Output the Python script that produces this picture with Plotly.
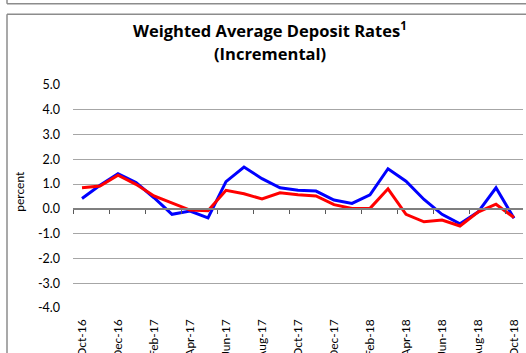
import plotly.graph_objects as go

months = ["Oct-16", "Nov-16", "Dec-16", "Jan-17", "Feb-17", "Mar-17", "Apr-17",
          "May-17", "Jun-17", "Jul-17", "Aug-17", "Sep-17", "Oct-17", "Nov-17",
          "Dec-17", "Jan-18", "Feb-18", "Mar-18", "Apr-18", "May-18", "Jun-18",
          "Jul-18", "Aug-18", "Sep-18", "Oct-18"]
blue_series = [0.42, 0.95, 1.42, 1.06, 0.45, -0.22, -0.09, -0.36, 1.10, 1.69,
               1.22, 0.85, 0.75, 0.72, 0.36, 0.22, 0.57, 1.62, 1.12, 0.38,
               -0.22, -0.60, -0.13, 0.85, -0.38]
red_series = [0.85, 0.92, 1.36, 0.99, 0.52, 0.22, -0.05, -0.07, 0.75, 0.61,
              0.40, 0.65, 0.57, 0.52, 0.17, 0.02, 0.02, 0.81, -0.22, -0.52,
              -0.45, -0.69, -0.13, 0.19, -0.35]
y_ticks = [5.0, 4.0, 3.0, 2.0, 1.0, 0.0, -1.0, -2.0, -3.0, -4.0]

W, H = 526, 353
L, R, T, B = 73, 3, 85, 44.5
PW, PH = W - L - R, H - T - B
Y_MIN, Y_MAX = -4.0, 5.0


def px(x):
    return (x - L) / PW


def py(y):
    return (H - B - y) / PH


idx = list(range(len(months)))
FONT = "Lato, 'Open Sans', sans-serif"
TITLE_FONT = "'Open Sans', Lato, sans-serif"

fig = go.Figure()
fig.add_trace(go.Scatter(x=idx, y=blue_series, mode="lines",
                         line=dict(color="#0000FF", width=3), showlegend=False))
fig.add_trace(go.Scatter(x=idx, y=red_series, mode="lines",
                         line=dict(color="#FF0000", width=3), showlegend=False))

label_idx = idx[::2]
fig.update_layout(
    width=W, height=H,
    margin=dict(l=L, r=R, t=T, b=B, autoexpand=False),
    paper_bgcolor="white", plot_bgcolor="white",
    font=dict(family=FONT, color="#000000"),
    xaxis=dict(
        range=[-0.5, len(months) - 0.5],
        tickmode="array", tickvals=label_idx,
        ticktext=[months[i] for i in label_idx],
        tickangle=-90, ticks="", showgrid=False, zeroline=False,
        showline=False, tickfont=dict(size=12, family=FONT),
        ticklabelstandoff=8, automargin=False,
    ),
    xaxis2=dict(
        overlaying="x", anchor="free",
        position=(0 - Y_MIN) / (Y_MAX - Y_MIN),
        range=[-0.5, len(months) - 0.5],
        tickmode="array",
        tickvals=[i - 0.5 for i in range(0, len(months) + 1, 2)],
        ticks="outside", ticklen=4, tickwidth=1.3, tickcolor="#595959",
        showticklabels=False, showgrid=False, zeroline=False,
        showline=True, linecolor="#7F7F7F", linewidth=1.5,
        side="bottom", automargin=False,
    ),
    yaxis=dict(
        range=[Y_MIN, Y_MAX], tickmode="array", tickvals=y_ticks,
        ticktext=[f"{v:.1f}" for v in y_ticks],
        showgrid=True, gridcolor="#A6A6A6", gridwidth=1.3,
        zeroline=False, showline=False, ticks="",
        tickfont=dict(size=12.5, family=FONT),
        ticklabelstandoff=12, automargin=False,
    ),
)

# invisible trace to activate the boundary-tick axis
fig.add_trace(go.Scatter(x=[0], y=[0], xaxis="x2", mode="markers",
                         marker=dict(opacity=0), showlegend=False,
                         hoverinfo="skip"))

fig.add_annotation(text="<b>Weighted Average Deposit Rates<sup>1</sup></b>",
                   xref="paper", yref="paper", x=px(270), y=py(30),
                   xanchor="center", yanchor="middle",
                   showarrow=False, font=dict(size=16.5, family=TITLE_FONT))
fig.add_annotation(text="<b>(Incremental)</b>",
                   xref="paper", yref="paper", x=px(270), y=py(53),
                   xanchor="center", yanchor="middle",
                   showarrow=False, font=dict(size=16.5, family=TITLE_FONT))
fig.add_annotation(text="percent", textangle=-90,
                   xref="paper", yref="paper", x=px(20), y=py(192),
                   xanchor="center", yanchor="middle",
                   showarrow=False, font=dict(size=12, family=FONT))

# chart frames
frame = dict(color="#8C8C8C", width=1.5)
fig.add_shape(type="line", xref="paper", yref="paper",
              x0=px(7), x1=px(540), y0=py(3.5), y1=py(3.5), line=frame)
fig.add_shape(type="line", xref="paper", yref="paper",
              x0=px(7), x1=px(7), y0=py(-5), y1=py(3.5), line=frame)
fig.add_shape(type="line", xref="paper", yref="paper",
              x0=px(7), x1=px(540), y0=py(14), y1=py(14), line=frame)
fig.add_shape(type="line", xref="paper", yref="paper",
              x0=px(7), x1=px(7), y0=py(14), y1=py(370), line=frame)

fig.write_html("out.html")
